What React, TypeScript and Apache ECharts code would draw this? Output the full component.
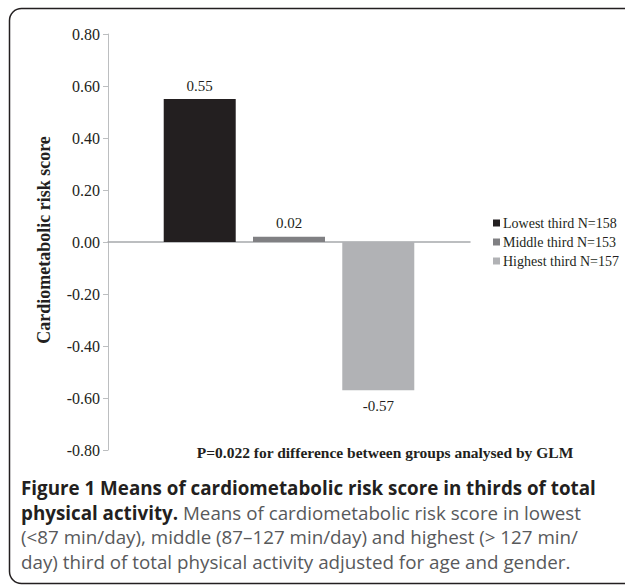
import React, { useEffect, useRef } from "react";
import * as echarts from "echarts";

const categories = ["Physical activity"];
const seriesNames = ["Lowest third N=158", "Middle third N=153", "Highest third N=157"];
const seriesValues = [0.55, 0.02, -0.57];
const seriesColors = ["#231f20", "#808083", "#b1b2b5"];
const yTicks = { min: -0.8, max: 0.8, interval: 0.2 };
const yAxisTitle = "Cardiometabolic risk score";
const pNote = "P=0.022 for difference between groups analysed by GLM";
const captionBold1 = "Figure 1 Means of cardiometabolic risk score in thirds of total";
const captionBold2 = "physical activity.";
const captionRegular = [
  " Means of cardiometabolic risk score in lowest",
  "(<87 min/day), middle (87\u2013127 min/day) and highest (> 127 min/",
  "day) third of total physical activity adjusted for age and gender.",
];

const SERIF = "'Liberation Serif', 'Times New Roman', serif";
const SANS = "'Open Sans', 'Noto Sans', sans-serif";

export default function App() {
  const ref = useRef<HTMLDivElement>(null);
  useEffect(() => {
    if (!ref.current) return;
    const chart = echarts.init(ref.current, null, { renderer: "svg" });
    const series = seriesNames.map((name, i) => ({
      name,
      type: "bar",
      data: [seriesValues[i]],
      barWidth: 72,
      barGap: "24%",
      itemStyle: { color: seriesColors[i] },
      label: {
        show: true,
        position: seriesValues[i] >= 0 ? "top" : "bottom",
        distance: seriesValues[i] >= 0 ? 6 : 8,
        formatter: (p: any) => Number(p.value).toFixed(2),
        fontFamily: SERIF,
        fontSize: 15,
        color: "#231f20",
      },
    }));
    chart.setOption({
      animation: false,
      backgroundColor: "#ffffff",
      grid: { left: 108, right: 155, top: 34, bottom: 135 },
      legend: {
        orient: "vertical",
        left: 488,
        top: 211,
        itemWidth: 7,
        itemHeight: 7,
        itemGap: 5,
        icon: "rect",
        data: seriesNames,
        textStyle: { fontFamily: SERIF, fontSize: 14, color: "#231f20", padding: [0, 0, 0, -2] },
      },
      xAxis: {
        type: "category",
        data: categories,
        axisLine: { show: true, onZero: true, lineStyle: { color: "#a7a9ac", width: 1.5 } },
        axisTick: { show: false },
        axisLabel: { show: false },
        splitLine: { show: false },
      },
      yAxis: {
        type: "value",
        min: yTicks.min,
        max: yTicks.max,
        interval: yTicks.interval,
        axisLine: { show: true, lineStyle: { color: "#bcbec0", width: 1 } },
        axisTick: { show: true, length: 5, lineStyle: { color: "#bcbec0" } },
        splitLine: { show: false },
        axisLabel: {
          formatter: (v: number) => v.toFixed(2),
          fontFamily: SERIF,
          fontSize: 16,
          color: "#231f20",
          margin: 8,
        },
      },
      series,
      graphic: [
        {
          type: "rect",
          shape: { x: 9.5, y: 8.5, width: 640, height: 575, r: 12 },
          style: { fill: "none", stroke: "#231f20", lineWidth: 1.5 },
          silent: true,
        },
        {
          type: "text",
          x: 44,
          y: 240,
          rotation: Math.PI / 2,
          style: {
            text: yAxisTitle,
            fontFamily: SERIF,
            fontWeight: "bold",
            fontSize: 18,
            fill: "#231f20",
            align: "center",
            verticalAlign: "middle",
          },
        },
        {
          type: "text",
          x: 385,
          y: 452,
          style: {
            text: pNote,
            fontFamily: SERIF,
            fontWeight: "bold",
            fontSize: 15.5,
            fill: "#231f20",
            align: "center",
            verticalAlign: "middle",
          },
        },
        {
          type: "text",
          x: 21,
          y: 476,
          style: {
            text:
              "{b|" + captionBold1 + "}\n{b|" + captionBold2 + "}{r|" + captionRegular[0] + "}\n{r|" +
              captionRegular[1] + "}\n{r|" + captionRegular[2] + "}",
            align: "left",
            verticalAlign: "top",
            rich: {
              b: { fontFamily: SANS, fontWeight: "bold", fontSize: 18.8, lineHeight: 24.5, fill: "#231f20" },
              r: { fontFamily: SANS, fontWeight: "normal", fontSize: 18.8, lineHeight: 24.5, fill: "#58595b" },
            },
          },
        },
      ],
    });
    return () => chart.dispose();
  }, []);
  return (
    <div
      ref={ref}
      style={{ position: "absolute", left: 0, top: 0, width: 625, height: 585 }}
    />
  );
}
